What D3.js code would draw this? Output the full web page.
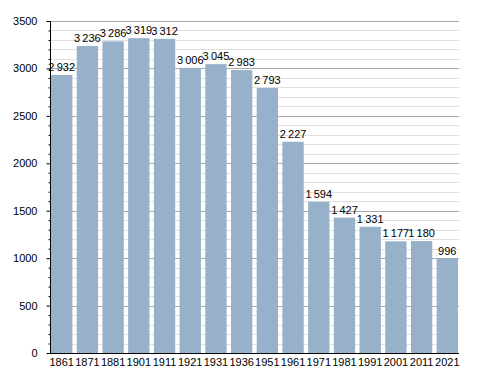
<!DOCTYPE html>
<html>
<head>
<meta charset="utf-8">
<script src="https://cdn.jsdelivr.net/npm/d3@7"></script>
<style>
body { margin: 0; background: #fff; }
text { font-family: "Liberation Sans", Arial, sans-serif; font-size: 11px; fill: #000; }
</style>
</head>
<body>
<svg id="chart" width="488" height="373"></svg>
<script>
// population by census year
var years = ["1861","1871","1881","1901","1911","1921","1931","1936","1951","1961","1971","1981","1991","2001","2011","2021"];
var population = [2932,3236,3286,3319,3312,3006,3045,2983,2793,2227,1594,1427,1331,1177,1180,996];
var yTicks = [0,500,1000,1500,2000,2500,3000,3500];

var LEFT = 50, RIGHT = 459, TOP = 21, BOTTOM = 353;

var svg = d3.select("#chart");

var x = d3.scaleBand()
	.domain(years)
	.range([LEFT, RIGHT])
	.paddingInner(0.17)
	.paddingOuter(0.04);

var y = d3.scaleLinear()
	.domain([0, 3500])
	.range([BOTTOM, TOP]);

// minor grid every 100
var minor = d3.range(0, 3501, 100).filter(function(d) { return d % 500 != 0; });
svg.selectAll(".minor")
	.data(minor)
	.enter()
	.append("line")
	.attr("x1", LEFT).attr("x2", RIGHT)
	.attr("y1", function(d) { return Math.round(y(d)) + 0.5; })
	.attr("y2", function(d) { return Math.round(y(d)) + 0.5; })
	.attr("stroke", "#e0e0e0");

// major grid every 500
svg.selectAll(".major")
	.data(yTicks.slice(1))
	.enter()
	.append("line")
	.attr("x1", LEFT).attr("x2", RIGHT)
	.attr("y1", function(d) { return Math.round(y(d)) + 0.5; })
	.attr("y2", function(d) { return Math.round(y(d)) + 0.5; })
	.attr("stroke", "#a8a8a8");

// bars
svg.selectAll(".bar")
	.data(population)
	.enter()
	.append("rect")
	.attr("x", function(d, i) { return x(years[i]); })
	.attr("width", x.bandwidth())
	.attr("y", function(d) { return y(d); })
	.attr("height", function(d) { return y(0) - y(d); })
	.attr("fill", "#97b1cb");

// value labels, thin space as thousands separator
var fmt = function(d) {
	var s = String(d);
	return s.length > 3 ? s.slice(0, s.length - 3) + "\u2009" + s.slice(-3) : s;
};
svg.selectAll(".val")
	.data(population)
	.enter()
	.append("text")
	.attr("x", function(d, i) { return x(years[i]) + x.bandwidth() / 2; })
	.attr("y", function(d) { return y(d) - 4; })
	.attr("text-anchor", "middle")
	.text(fmt);

// y axis
var yAxis = d3.axisLeft(y)
	.tickValues(d3.range(0, 3501, 100))
	.tickSize(4)
	.tickFormat(function(d) { return d % 500 == 0 ? d : ""; });
var gy = svg.append("g")
	.attr("transform", "translate(" + (LEFT + 0.5) + ",0)")
	.call(yAxis);
gy.select(".domain").attr("stroke", "#000").attr("d", "M0," + TOP + "V" + BOTTOM);
gy.selectAll(".tick line")
	.attr("stroke", "#000")
	.attr("x2", function(d) { return d % 500 == 0 ? -4 : -2; });
gy.selectAll(".tick text")
	.attr("x", -13)
	.style("font-family", "'Liberation Sans', Arial, sans-serif")
	.style("font-size", "11px");

// x axis
var xAxis = d3.axisBottom(x).tickSize(0).tickPadding(5);
var gx = svg.append("g")
	.attr("transform", "translate(0," + (BOTTOM + 0.5) + ")")
	.call(xAxis);
gx.select(".domain").attr("stroke", "#000").attr("d", "M" + LEFT + ",0H" + RIGHT);
gx.selectAll(".tick text")
	.style("font-family", "'Liberation Sans', Arial, sans-serif")
	.style("font-size", "11px");
</script>
</body>
</html>
